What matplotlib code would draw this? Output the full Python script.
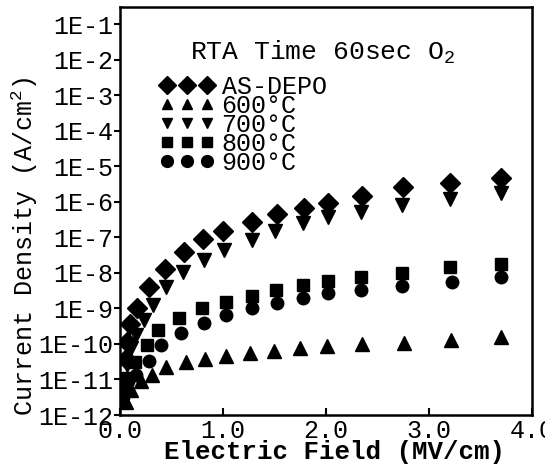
import numpy as np
import matplotlib
matplotlib.use("Agg")
import matplotlib.pyplot as plt
from matplotlib.lines import Line2D
from matplotlib.ticker import FixedLocator, FixedFormatter, NullLocator

# log10 of current density (A/cm2) vs electric field (MV/cm)
asdepo_x = [0.06, 0.065, 0.10, 0.17, 0.28, 0.44, 0.62, 0.81, 1.0, 1.28, 1.53, 1.79, 2.02, 2.35, 2.75, 3.2, 3.7]
asdepo_y = [-10.43, -9.94, -9.44, -9.0, -8.39, -7.88, -7.41, -7.06, -6.83, -6.56, -6.33, -6.17, -6.03, -5.84, -5.59, -5.48, -5.32]

t600_x = [0.06, 0.11, 0.20, 0.31, 0.45, 0.64, 0.83, 1.03, 1.26, 1.50, 1.75, 2.01, 2.35, 2.76, 3.21, 3.7]
t600_y = [-11.63, -11.29, -11.04, -10.86, -10.65, -10.51, -10.42, -10.33, -10.26, -10.19, -10.12, -10.06, -10.0, -9.96, -9.89, -9.80]

t700_x = [0.07, 0.11, 0.16, 0.23, 0.32, 0.45, 0.61, 0.82, 1.01, 1.28, 1.51, 1.78, 2.02, 2.34, 2.74, 3.2, 3.7]
t700_y = [-10.6, -10.12, -9.76, -9.33, -8.89, -8.41, -7.97, -7.65, -7.35, -7.08, -6.81, -6.60, -6.44, -6.30, -6.10, -5.93, -5.75]

t800_x = [0.03, 0.065, 0.15, 0.26, 0.37, 0.57, 0.80, 1.03, 1.28, 1.52, 1.78, 2.02, 2.34, 2.74, 3.2, 3.7]
t800_y = [-11.3, -10.97, -10.51, -10.03, -9.62, -9.28, -9.0, -8.82, -8.64, -8.48, -8.34, -8.23, -8.13, -8.0, -7.83, -7.76]

t900_x = [0.03, 0.08, 0.16, 0.28, 0.40, 0.59, 0.82, 1.03, 1.28, 1.53, 1.78, 2.02, 2.34, 2.74, 3.22, 3.7]
t900_y = [-11.5, -11.04, -10.86, -10.47, -10.03, -9.68, -9.41, -9.19, -9.0, -8.84, -8.72, -8.57, -8.48, -8.37, -8.25, -8.13]

ytick_exp = [-1, -2, -3, -4, -5, -6, -7, -8, -9, -10, -11, -12]
xticks = [0.0, 1.0, 2.0, 3.0, 4.0]

plt.rcParams['font.family'] = ['Liberation Mono', 'DejaVu Sans Mono']
plt.rcParams['mathtext.fontset'] = 'custom'
plt.rcParams['mathtext.rm'] = 'Liberation Mono'
plt.rcParams['mathtext.default'] = 'regular'

fig = plt.figure(figsize=(5.45, 4.73), dpi=100)
ax = fig.add_axes([0.220, 0.1226, 0.756, 0.8624])

series = [
    (asdepo_x, asdepo_y, 'D', 10.5, 9.5, "AS-DEPO"),
    (t600_x, t600_y, '^', 9.5, 7.5, "600\u00b0C"),
    (t700_x, t700_y, 'v', 9.5, 7.5, "700\u00b0C"),
    (t800_x, t800_y, 's', 8, 7, "800\u00b0C"),
    (t900_x, t900_y, 'o', 9, 8.5, "900\u00b0C"),
]
handles = []
for x, y, m, ms, lms, lab in series:
    ax.plot(x, 10.0 ** np.array(y), linestyle='none', marker=m, ms=ms,
            color='black')
    handles.append(Line2D([], [], linestyle='none', marker=m, ms=lms,
                          color='black', label=lab))

ax.set_yscale('log')
ax.set_ylim(1e-12, 10 ** -0.52)
ax.set_xlim(0, 4.0)

ax.yaxis.set_major_locator(FixedLocator([10.0 ** e for e in ytick_exp]))
ax.yaxis.set_major_formatter(FixedFormatter(["1E-%d" % -e for e in ytick_exp]))
ax.yaxis.set_minor_locator(NullLocator())
ax.set_xticks(xticks)
ax.set_xticklabels(["%.1f" % v for v in xticks])

ax.tick_params(axis='y', direction='out', length=4, width=1.5, labelsize=18, pad=1)
ax.tick_params(axis='x', direction='in', length=5, width=1.5, labelsize=18, pad=3)
for s in ax.spines.values():
    s.set_linewidth(1.8)

ax.set_xlabel("Electric Field (MV/cm)", fontsize=18.5, fontweight='bold')
ax.xaxis.set_label_coords(0.522, -0.062)
ax.set_ylabel("Current Density (A/cm$^2$)", fontsize=18)
ax.yaxis.set_label_coords(-0.195, 0.414)

ax.text(0.17, 0.89, "RTA Time 60sec O$_2$", transform=ax.transAxes,
        fontsize=19, ha='left', va='center')

leg = ax.legend(handles=handles, loc='upper left', bbox_to_anchor=(0.095, 0.833),
                numpoints=3, frameon=False, fontsize=18, handlelength=2.2,
                handletextpad=0.3, labelspacing=-0.2, borderpad=0,
                borderaxespad=0)

fig.savefig("out.png", dpi=100)
